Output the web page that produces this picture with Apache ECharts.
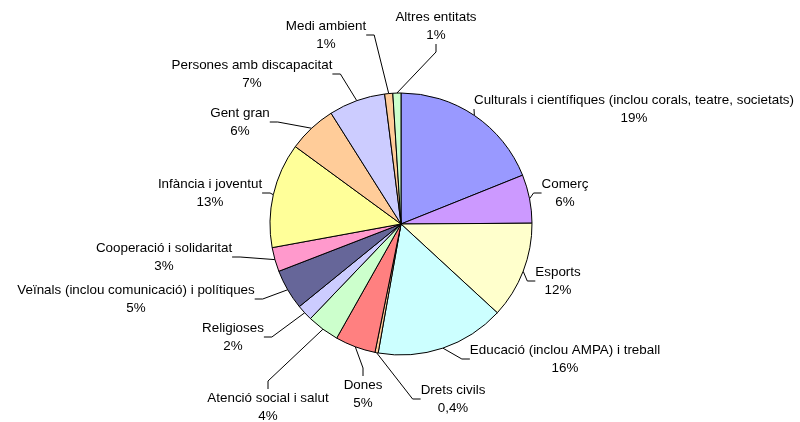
<!DOCTYPE html>
<html>
<head>
<meta charset="utf-8">
<script src="https://cdn.jsdelivr.net/npm/echarts@6/dist/echarts.min.js"></script>
<style>html,body{margin:0;padding:0;background:#fff;}#c{width:800px;height:422px;}</style>
</head>
<body>
<div id="c"></div>
<script>
const categories = [
  'Culturals i científiques (inclou corals, teatre, societats)',
  'Comerç',
  'Esports',
  'Educació (inclou AMPA) i treball',
  'Drets civils',
  'Dones',
  'Atenció social i salut',
  'Religioses',
  'Veïnals (inclou comunicació) i polítiques',
  'Cooperació i solidaritat',
  'Infància i joventut',
  'Gent gran',
  'Persones amb discapacitat',
  'Medi ambient',
  'Altres entitats'
];
const values = [19, 6, 12, 16, 0.4, 5, 4, 2, 5, 3, 13, 6, 7, 1, 1];

const colors = ['#9999FF','#CC99FF','#FFFFCC','#CCFFFF','#FFCC99','#FF8080','#CCFFCC','#CCCCFF','#666699','#FF99CC','#FFFF99','#FFCC99','#CCCCFF','#FFCC99','#CCFFCC'];
// label centre positions (layout only)
const labelPos = [
  [634,109],[565,193],[558,281],[565,359],[453,399],[363,394],[268,407],
  [233,337],[136,299],[164,257],[210,193],[240,122],[252,74],[326,35],[436,26]
];

const chart = echarts.init(document.getElementById('c'), null, {renderer:'canvas'});
chart.setOption({
  animation: false,
  backgroundColor: '#ffffff',
  series: [{
    type: 'pie',
    center: [401, 224],
    radius: 131,
    startAngle: 90,
    clockwise: true,
    avoidLabelOverlap: false,
    data: categories.map((n, i) => ({ name: n, value: values[i], itemStyle: { color: colors[i] } })),
    itemStyle: { borderColor: '#000', borderWidth: 1 },
    label: {
      show: true,
      position: 'outside',
      color: '#000',
      fontFamily: 'Liberation Sans, Arial, sans-serif',
      fontSize: 13.4,
      lineHeight: 18,
      align: 'center',
      formatter: p => p.name + '\n' + String(values[p.dataIndex]).replace('.', ',') + '%'
    },
    labelLine: { show: true, length: 10, length2: 8, lineStyle: { color: '#000', width: 1 } },
    labelLayout: function (params) {
      const p = labelPos[params.dataIndex];
      return { x: p[0], y: p[1], align: 'center', verticalAlign: 'middle', hideOverlap: false };
    },
    emphasis: { disabled: true }
  }]
});
</script>
</body>
</html>
